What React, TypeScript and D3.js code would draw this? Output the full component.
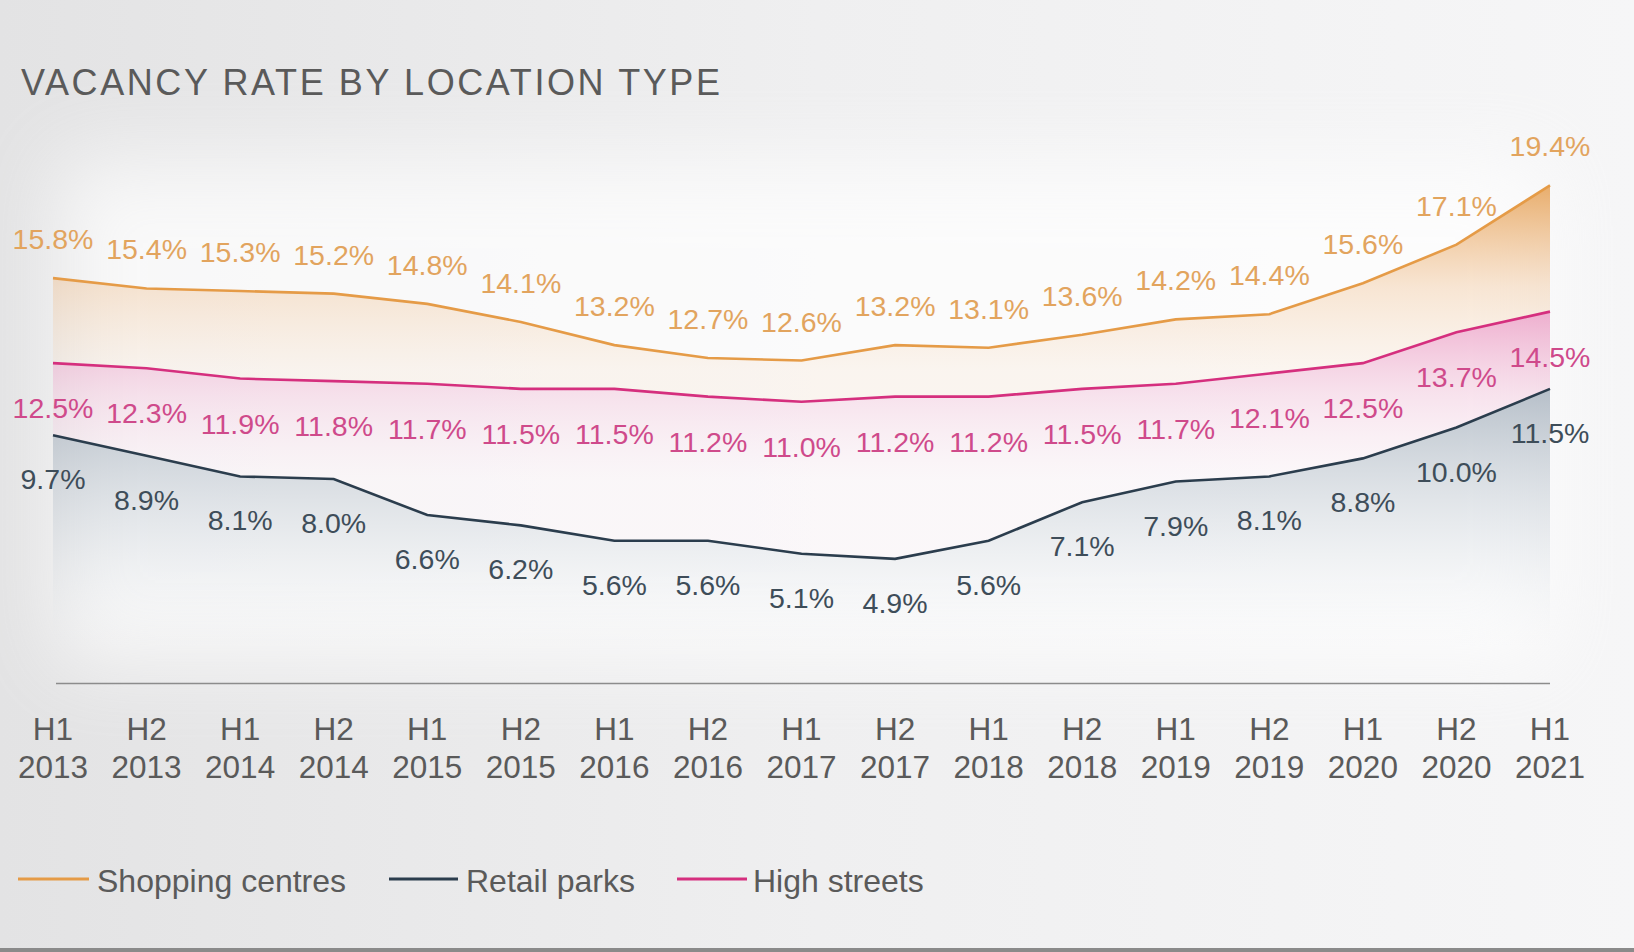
import React from "react";
import * as d3 from "d3";

const halfLabels = ["H1","H2","H1","H2","H1","H2","H1","H2","H1","H2","H1","H2","H1","H2","H1","H2","H1"];
const yearLabels = ["2013","2013","2014","2014","2015","2015","2016","2016","2017","2017","2018","2018","2019","2019","2020","2020","2021"];
const shopping = [15.8,15.4,15.3,15.2,14.8,14.1,13.2,12.7,12.6,13.2,13.1,13.6,14.2,14.4,15.6,17.1,19.4];
const highStreets = [12.5,12.3,11.9,11.8,11.7,11.5,11.5,11.2,11.0,11.2,11.2,11.5,11.7,12.1,12.5,13.7,14.5];
const retailParks = [9.7,8.9,8.1,8.0,6.6,6.2,5.6,5.6,5.1,4.9,5.6,7.1,7.9,8.1,8.8,10.0,11.5];
const seriesNames = ["Shopping centres", "Retail parks", "High streets"];

const W = 1634, H = 952;
const FONT = "'Liberation Sans', Arial, Helvetica, sans-serif";

export default function App() {
  const keys = halfLabels.map((h, i) => `${h} ${yearLabels[i]}`);
  const x = d3.scalePoint<string>().domain(keys).range([53, 1550]);
  const y = d3.scaleLinear().domain([0, 20]).range([685, 170]);
  const line = (vals: number[]) =>
    d3.line<number>().x((_, i) => x(keys[i])!).y((v) => y(v))(vals)!;
  const areaBetween = (top: number[], bottom: number[] | null) =>
    d3.area<number>()
      .x((_, i) => x(keys[i])!)
      .y0((_, i) => (bottom ? y(bottom[i]) : y(0) - 40))
      .y1((v) => y(v))(top)!;

  const cOrange = "#e59b47", cPink = "#d52f7e", cNavy = "#2b3d4d";
  const lOrange = "#e2a45e", lPink = "#cf4a8b", lNavy = "#3e4d59";
  const grey = "#5a5a5a";

  return (
    <svg width={W} height={H} style={{ position: "absolute", left: 0, top: 0 }} fontFamily={FONT}>
      <defs>
        <linearGradient id="bg" x1="0" x2="1" y1="0" y2="0">
          <stop offset="0" stopColor="#e3e3e4" />
          <stop offset="0.5" stopColor="#efeff0" />
          <stop offset="1" stopColor="#f6f6f7" />
        </linearGradient>
        <filter id="blur" x="-20%" y="-20%" width="140%" height="140%">
          <feGaussianBlur stdDeviation="40" />
        </filter>
        <linearGradient id="gOrange" gradientUnits="userSpaceOnUse" x1="0" x2="0" y1={185} y2={370}>
          <stop offset="0" stopColor="#e49a48" stopOpacity="0.8" />
          <stop offset="0.55" stopColor="#eeb47a" stopOpacity="0.32" />
          <stop offset="1" stopColor="#f5d2b0" stopOpacity="0.16" />
        </linearGradient>
        <linearGradient id="gPink" gradientUnits="userSpaceOnUse" x1="0" x2="0" y1={310} y2={480}>
          <stop offset="0" stopColor="#e67bb0" stopOpacity="0.6" />
          <stop offset="0.5" stopColor="#f0b5d2" stopOpacity="0.36" />
          <stop offset="1" stopColor="#f8e0ec" stopOpacity="0.14" />
        </linearGradient>
        <linearGradient id="gNavy" gradientUnits="userSpaceOnUse" x1="0" x2="0" y1={385} y2={650}>
          <stop offset="0" stopColor="#8796a6" stopOpacity="0.6" />
          <stop offset="0.55" stopColor="#b9c3cd" stopOpacity="0.28" />
          <stop offset="1" stopColor="#e6eaee" stopOpacity="0" />
        </linearGradient>
      </defs>

      <rect x={0} y={0} width={W} height={H} fill="url(#bg)" />
      <rect x={60} y={160} width={1490} height={500} fill="#ffffff" opacity={0.75} filter="url(#blur)" />
      <rect x={0} y={948} width={W} height={4} fill="#8a8a8a" />

      <text x={21} y={95} fontSize={36} fill={grey} letterSpacing={2.6}>VACANCY RATE BY LOCATION TYPE</text>

      <path d={areaBetween(retailParks, null)} fill="url(#gNavy)" />
      <path d={areaBetween(highStreets, retailParks)} fill="url(#gPink)" />
      <path d={areaBetween(shopping, highStreets)} fill="url(#gOrange)" />

      <path d={line(shopping)} fill="none" stroke={cOrange} strokeWidth={2.6} />
      <path d={line(highStreets)} fill="none" stroke={cPink} strokeWidth={2.6} />
      <path d={line(retailParks)} fill="none" stroke={cNavy} strokeWidth={2.6} />

      <line x1={56} x2={1550} y1={683.5} y2={683.5} stroke="#8c8c8c" strokeWidth={1.5} />

      {shopping.map((v, i) => (
        <text key={"s" + i} x={x(keys[i])} y={y(v) - 29} fontSize={28.5} fill={lOrange} textAnchor="middle">{v.toFixed(1)}%</text>
      ))}
      {highStreets.map((v, i) => (
        <text key={"h" + i} x={x(keys[i])} y={y(v) + 55} fontSize={28.5} fill={lPink} textAnchor="middle">{v.toFixed(1)}%</text>
      ))}
      {retailParks.map((v, i) => (
        <text key={"r" + i} x={x(keys[i])} y={y(v) + 54} fontSize={28.5} fill={lNavy} textAnchor="middle">{v.toFixed(1)}%</text>
      ))}

      {keys.map((k, i) => (
        <g key={"t" + i}>
          <text x={x(k)} y={740} fontSize={31.5} fill={grey} textAnchor="middle">{halfLabels[i]}</text>
          <text x={x(k)} y={778} fontSize={31.5} fill={grey} textAnchor="middle">{yearLabels[i]}</text>
        </g>
      ))}

      {[
        { name: seriesNames[0], c: cOrange, x1: 18, x2: 89, tx: 97 },
        { name: seriesNames[1], c: cNavy, x1: 389, x2: 458, tx: 466 },
        { name: seriesNames[2], c: cPink, x1: 677, x2: 747, tx: 753 },
      ].map((l) => (
        <g key={l.name}>
          <line x1={l.x1} x2={l.x2} y1={879} y2={879} stroke={l.c} strokeWidth={3} />
          <text x={l.tx} y={892} fontSize={32} fill={grey}>{l.name}</text>
        </g>
      ))}
    </svg>
  );
}
